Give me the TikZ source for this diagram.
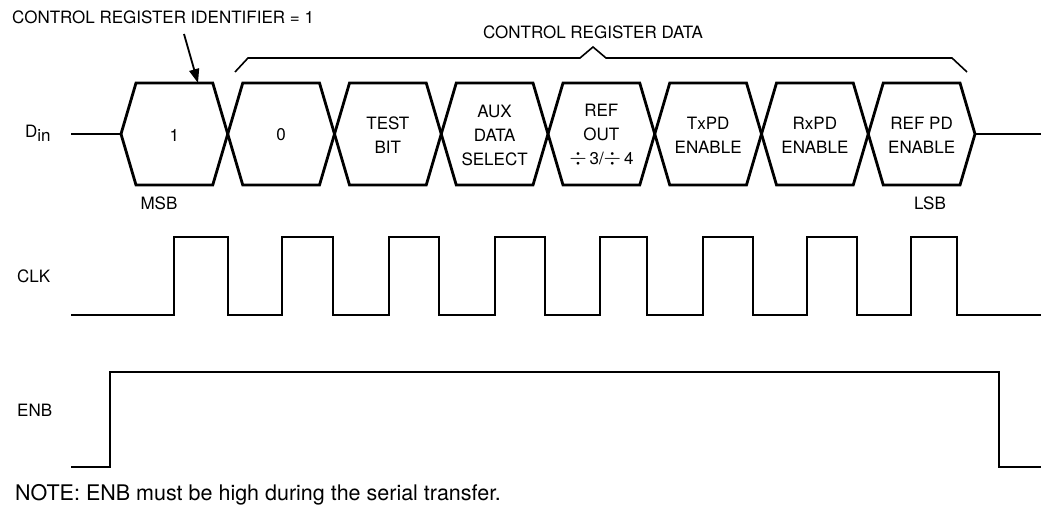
\documentclass[tikz,border=0pt]{standalone}
\usepackage{fontspec}
\setmainfont{TeX Gyre Heros}
\usetikzlibrary{positioning,arrows.meta,calc}

\newcommand{\divsign}{\scalebox{1.3}{$\div$}}

\begin{document}
\begin{tikzpicture}
    [x=1pt, y=-1pt,
     sig/.style={line width=2.8pt, line join=miter},
     brace/.style={line width=1.6pt, line join=miter},
     cell/.style={align=center, inner sep=0pt, font=\fontsize{17}{24}\selectfont},
     lbl/.style={inner sep=0pt, font=\fontsize{17}{20}\selectfont},
     ptr/.style={line width=1.8pt, -{Triangle[length=14pt, width=10pt]}}]

    \useasboundingbox (0,0) rectangle (1041,521);

    \node [lbl, anchor=west] (din) at (25,133) {D\raisebox{-0.45ex}{in}};
    \node [lbl, anchor=west] (clk) at (17,276) {CLK};
    \node [lbl, anchor=west] (enb) at (17,410) {ENB};

    \coordinate (dinl) at (71,134);
    \coordinate (dinr) at (975,134);
    \draw [sig] (dinl) -- (121,134);
    \draw [sig] (dinr) -- (1041,134);

    \foreach \t [count=\i from 0] in {1, 0, TEST\\BIT, AUX\\DATA\\SELECT, REF\\OUT\\\divsign\,3/\divsign\,4,
                                      TxPD\\ENABLE, RxPD\\ENABLE, REF PD\\ENABLE} {
        \pgfmathsetmacro\xa{121+106.75*\i}
        \pgfmathsetmacro\xb{\xa+106.75}
        \draw [sig] (\xa,134) -- (\xa+15,83) -- (\xb-15,83) -- (\xb,134) -- (\xb-15,185) -- (\xa+15,185) -- cycle;
        \node [cell] (bit\i) at ({(\xa+\xb)/2},135) {\t};
    }

    \node [lbl, anchor=west] (id) at (12,17) {CONTROL REGISTER IDENTIFIER = 1};
    \coordinate (tail) at (184,34);
    \coordinate (tip) at (198,83);
    \draw [ptr] (tail) -- (tip);

    \node [lbl] (data) at (593,32) {CONTROL REGISTER DATA};
    \draw [brace] (235,72) -- (248,58) -- (580,58) -- (593,47) -- (606,58) -- (952,58) -- (967,72);

    \node [lbl] (msb) at (159,203) {MSB};
    \node [lbl] (lsb) at (930,203) {LSB};

    \draw [sig] (71,315) foreach \r/\f in {174/228, 282/333, 389/439, 495/545, 600/647, 703/753, 807/857, 911/957}
        { -- (\r,315) -- (\r,237) -- (\f,237) -- (\f,315) } -- (1041,315);

    \draw [sig] (71,467) -- (110,467) -- (110,372) -- (999,372) -- (999,467) -- (1041,467);

    \node [lbl, anchor=west, font=\fontsize{21.5}{24}\selectfont] (note) at (15,495) {NOTE: ENB must be high during the serial transfer.};
\end{tikzpicture}
\end{document}
